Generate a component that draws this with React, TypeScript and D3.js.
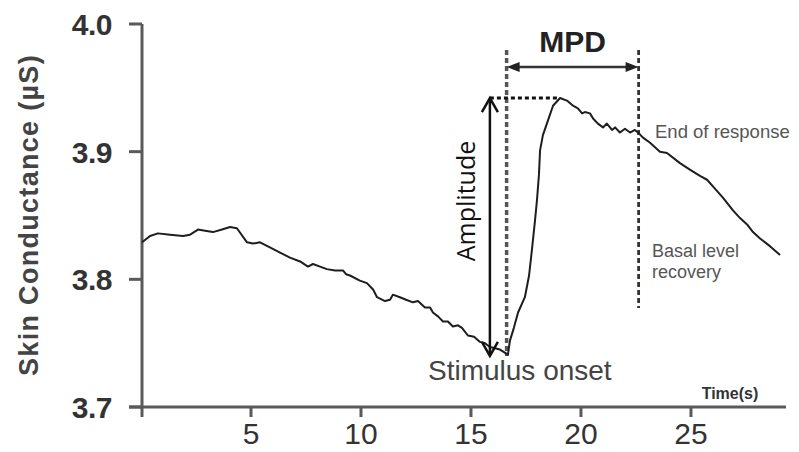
import React from "react";
import * as d3 from "d3";

// ---- data ----
const timeS: number[] = [
  0.05, 0.41, 0.77, 1.32, 1.91, 2.23, 2.59, 2.91, 3.27, 3.68, 4.05, 4.36, 4.82, 5.09, 5.41, 5.86,
  6.32, 6.77, 7.23, 7.59, 7.82, 8.14, 8.45, 8.82, 9.18, 9.32, 9.5, 9.95, 10.27, 10.55, 10.73, 11.09,
  11.32, 11.45, 11.77, 12.05, 12.36, 12.59, 12.91, 13.14, 13.27, 13.5, 13.73, 13.95, 14.18, 14.41,
  14.59, 14.86, 15.14, 15.41, 15.64, 15.86, 16.32, 16.59, 16.68, 16.77, 16.95, 17.14, 17.45, 17.64,
  17.77, 17.91, 18.0, 18.09, 18.14, 18.27, 18.45, 18.73, 19.05, 19.36, 19.64, 19.86, 20.05, 20.18,
  20.41, 20.55, 20.77, 21.0, 21.18, 21.41, 21.55, 21.77, 22.0, 22.23, 22.45, 22.59, 22.82, 23.14,
  23.59, 23.91, 24.5, 24.95, 25.41, 25.73, 26.09, 26.45, 26.91, 27.23, 27.55, 27.82, 28.14, 28.59,
  29.05,
];
const conductance: number[] = [
  3.829, 3.834, 3.836, 3.835, 3.834, 3.835, 3.839, 3.838, 3.837, 3.839, 3.841, 3.84, 3.829, 3.828,
  3.829, 3.825, 3.821, 3.817, 3.814, 3.81, 3.812, 3.81, 3.808, 3.807, 3.807, 3.804, 3.803, 3.799,
  3.797, 3.792, 3.786, 3.783, 3.784, 3.788, 3.786, 3.784, 3.782, 3.783, 3.778, 3.778, 3.774, 3.771,
  3.767, 3.767, 3.763, 3.764, 3.762, 3.756, 3.755, 3.751, 3.75, 3.747, 3.745, 3.742, 3.741, 3.752,
  3.762, 3.774, 3.786, 3.803, 3.823, 3.846, 3.862, 3.882, 3.901, 3.913, 3.922, 3.936, 3.942, 3.94,
  3.936, 3.934, 3.93, 3.931, 3.93, 3.926, 3.922, 3.919, 3.922, 3.917, 3.919, 3.915, 3.918, 3.915,
  3.917, 3.915, 3.911, 3.907, 3.9, 3.899, 3.891, 3.886, 3.881, 3.878, 3.871, 3.864, 3.854, 3.848,
  3.843, 3.837, 3.832, 3.826, 3.819,
];
const xTicks: number[] = [5, 10, 15, 20, 25];
const yTicks: number[] = [3.7, 3.8, 3.9, 4.0];

const onsetT = 16.62;
const endT = 22.62;
const amplitudeT = 15.86;
const peakV = 3.942;
const minV = 3.74;

export default function App() {
  const W = 799;
  const H = 452;
  const x = d3.scaleLinear().domain([0, 29.32]).range([141, 786]);
  const y = d3.scaleLinear().domain([3.7, 4.0]).range([407, 24]);
  const pts = timeS.map((t, i) => [t, conductance[i]] as [number, number]);
  const line = d3
    .line<[number, number]>()
    .x((d) => x(d[0]))
    .y((d) => y(d[1]))
    .curve(d3.curveLinear);

  const axisColor = "#5a5a5a";
  const xOn = x(onsetT);
  const xEnd = x(endT);
  const xAmp = x(amplitudeT);
  const yPeak = y(peakV);
  const yMin = y(minV);
  const yMPD = 67;

  return (
    <svg
      width={W}
      height={H}
      style={{ position: "absolute", left: 0, top: 0, background: "#fff" }}
      fontFamily="'Liberation Sans', Arial, sans-serif"
    >
      <rect width={W} height={H} fill="#fff" />
      {/* axes */}
      <line x1={142} x2={142} y1={y(4.0)} y2={417} stroke={axisColor} strokeWidth={3} />
      <line x1={129} x2={786} y1={y(3.7)} y2={y(3.7)} stroke={axisColor} strokeWidth={3} />
      {yTicks.map((v) => (
        <g key={v}>
          <line x1={129} x2={142} y1={y(v)} y2={y(v)} stroke={axisColor} strokeWidth={3} />
          <text
            x={112}
            y={y(v) + 11}
            textAnchor="end"
            fontSize={30}
            fontWeight="bold"
            fill="#333"
            letterSpacing={-0.5}
          >
            {v.toFixed(1)}
          </text>
        </g>
      ))}
      {xTicks.map((t) => (
        <g key={t}>
          <line x1={x(t)} x2={x(t)} y1={y(3.7)} y2={417} stroke={axisColor} strokeWidth={3} />
          <text x={x(t)} y={444} textAnchor="middle" fontSize={30} fill="#333">
            {t}
          </text>
        </g>
      ))}
      <text
        transform={`translate(38,215) rotate(-90)`}
        textAnchor="middle"
        fontSize={27}
        fontWeight="bold"
        fill="#444"
        letterSpacing={1.3}
      >
        Skin Conductance (µS)
      </text>
      <text x={730} y={399} textAnchor="middle" fontSize={16} fontWeight="bold" fill="#333">
        Time(s)
      </text>

      {/* dashed vertical lines */}
      <line x1={xOn} x2={xOn} y1={50} y2={yMin} stroke="#555" strokeWidth={3.5} strokeDasharray="5 3" />
      <line x1={xEnd} x2={xEnd} y1={50} y2={308} stroke="#333" strokeWidth={2.8} strokeDasharray="5 3" />

      {/* curve */}
      <path d={line(pts) || ""} fill="none" stroke="#1e1e1e" strokeWidth={2} strokeLinejoin="round" />

      {/* dotted peak line */}
      <line x1={xAmp} x2={x(19.0)} y1={yPeak} y2={yPeak} stroke="#111" strokeWidth={3} strokeDasharray="4 3" />

      {/* amplitude arrow */}
      <line x1={xAmp} x2={xAmp} y1={yPeak + 1} y2={yMin - 1} stroke="#111" strokeWidth={2.5} />
      <polyline
        points={`${xAmp - 8},${yPeak + 14} ${xAmp},${yPeak} ${xAmp + 8},${yPeak + 14}`}
        fill="none"
        stroke="#111"
        strokeWidth={2.5}
      />
      <polyline
        points={`${xAmp - 8},${yMin - 14} ${xAmp},${yMin} ${xAmp + 8},${yMin - 14}`}
        fill="none"
        stroke="#111"
        strokeWidth={2.5}
      />
      <text
        transform={`translate(475,201) rotate(-90)`}
        textAnchor="middle"
        fontSize={25}
        fontFamily="'Open Sans', 'Noto Sans', sans-serif"
        fill="#111"
      >
        Amplitude
      </text>

      {/* MPD arrow */}
      <line x1={xOn + 10} x2={xEnd - 10} y1={yMPD} y2={yMPD} stroke="#333" strokeWidth={2.5} />
      <polygon
        points={`${xOn},${yMPD} ${xOn + 13},${yMPD - 5} ${xOn + 13},${yMPD + 5}`}
        fill="#222"
      />
      <polygon
        points={`${xEnd},${yMPD} ${xEnd - 13},${yMPD - 5} ${xEnd - 13},${yMPD + 5}`}
        fill="#222"
      />
      <text x={(xOn + xEnd) / 2} y={52} textAnchor="middle" fontSize={30} fontWeight="bold" fill="#222">
        MPD
      </text>

      {/* labels */}
      <text x={428} y={380} fontSize={28} fill="#444">
        Stimulus onset
      </text>
      <text x={655} y={138} fontSize={18.5} fill="#555">
        End of response
      </text>
      <text x={652} y={257} fontSize={18} fill="#555">
        Basal level
      </text>
      <text x={652} y={278} fontSize={18} fill="#555">
        recovery
      </text>
    </svg>
  );
}
